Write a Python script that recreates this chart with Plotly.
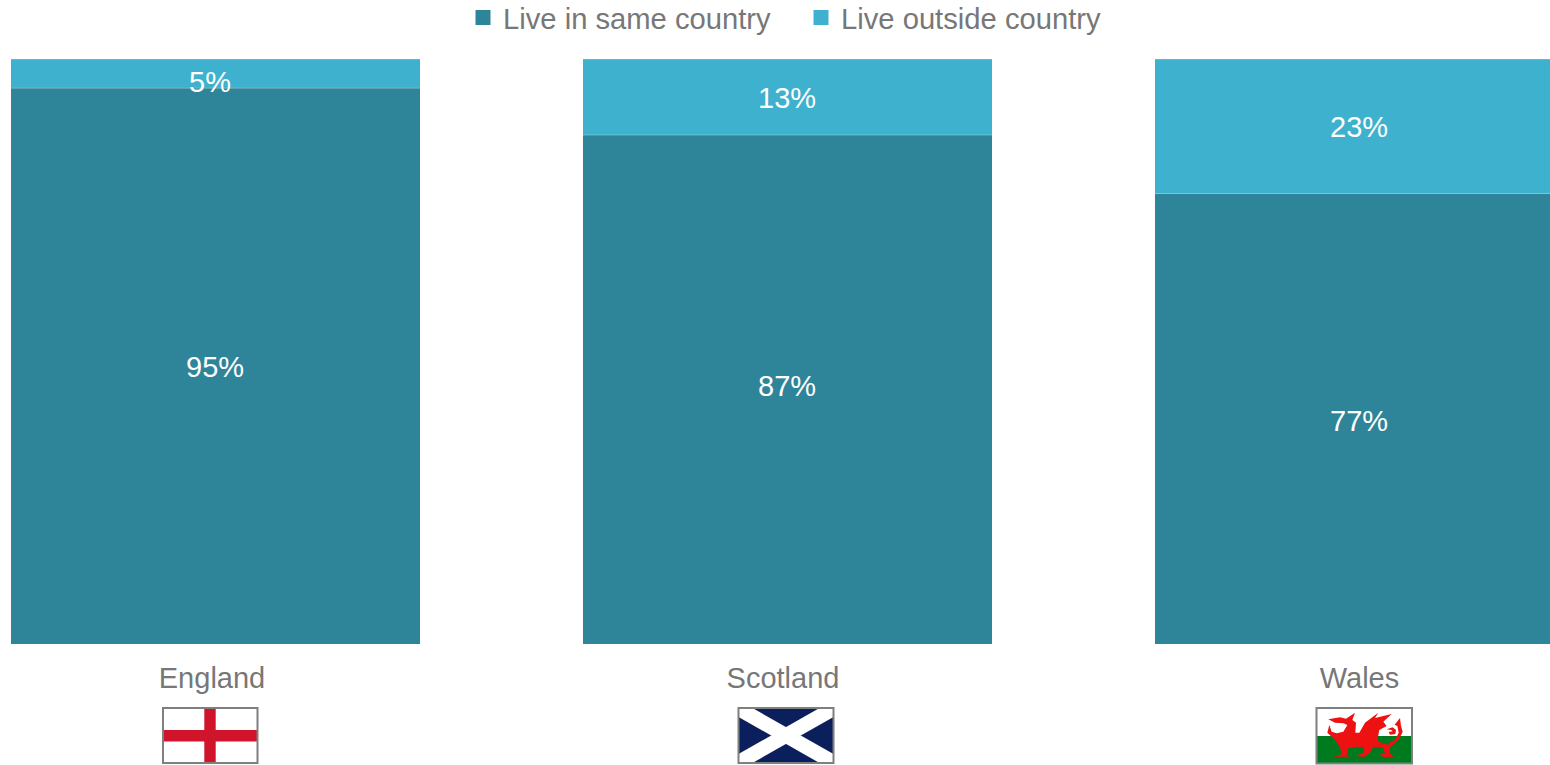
import plotly.graph_objects as go

countries = ["England", "Scotland", "Wales"]
same_country = [95, 87, 77]
outside_country = [5, 13, 23]
series_names = ["Live in same country", "Live outside country"]
series_colors = ["#2E8499", "#3EB1CE"]
TEXT_GREY = "#777777"
FONT = "Liberation Sans, Arial, sans-serif"
W, H = 1550, 765
TOP, BOTTOM = 59, 644
STEP = 572.0
FIRST = 215.5
xs = list(range(len(countries)))
tick_nudge_px = [-3.5, -4.5, 0]
same_nudge = [(-1, -1), (-1, 3.5), (-1, -2)]
outside_nudge = [(-5.5, -8), (-1, -1), (-1, -1)]

def px(x):
    return x / W
def py(y):
    return (BOTTOM - y) / (BOTTOM - TOP)

fig = go.Figure()
for name, vals, col in zip(series_names, [same_country, outside_country], series_colors):
    fig.add_trace(go.Bar(x=xs, y=vals, name=name, marker=dict(color=col, line=dict(width=0)),
                         showlegend=False, legendgroup=name, hoverinfo="x+y"))
for name, col in zip(series_names, series_colors):
    fig.add_trace(go.Scatter(x=[None], y=[None], mode="markers", name=name, legendgroup=name,
                             marker=dict(symbol="square", size=15, color=col)))

annotations = []
for i in xs:
    annotations.append(dict(x=i, y=same_country[i] / 2, text=f"{same_country[i]}%",
                            xshift=same_nudge[i][0], yshift=same_nudge[i][1]))
    annotations.append(dict(x=i, y=same_country[i] + outside_country[i] / 2, text=f"{outside_country[i]}%",
                            xshift=outside_nudge[i][0], yshift=outside_nudge[i][1]))
for a in annotations:
    a.update(xref="x", yref="y", showarrow=False, font=dict(family=FONT, size=29, color="white"))

shapes = []
half = 409 / STEP / 2
for i in xs:
    for level in (same_country[i], same_country[i] + outside_country[i]):
        shapes.append(dict(type="line", xref="x", yref="y", x0=i - half, x1=min(i + half, 2.34), y0=level, y1=level,
                           line=dict(color="rgba(255,255,255,0.3)", width=1)))

def rect(x0, y0, x1, y1, fill, line=None):
    return dict(type="rect", xref="paper", yref="paper", x0=px(x0), x1=px(x1), y0=py(y0), y1=py(y1),
                fillcolor=fill, line=dict(color=line, width=2) if line else dict(width=0), layer="above")

def poly(points, fill):
    d = "M" + " L".join(f"{px(x):.5f},{py(y):.5f}" for x, y in points) + " Z"
    return dict(type="path", xref="paper", yref="paper", path=d, fillcolor=fill, line=dict(width=0), layer="above")

# England flag
shapes += [rect(163, 708, 257.5, 763, "white"),
           rect(204.3, 709, 215.7, 762, "#CF142B"),
           rect(164, 730, 257, 741.5, "#CF142B"),
           rect(163, 708, 257.5, 763, "rgba(0,0,0,0)", "#7F7F7F")]
# Scotland flag
l, t, r, b = 738.5, 708, 833.5, 763
shapes += [rect(l, t, r, b, "#0B1F5C"),
           poly([(l, t), (l + 14, t), (r, b - 9), (r, b), (r - 14, b), (l, t + 9)], "white"),
           poly([(r, t), (r - 14, t), (l, b - 9), (l, b), (l + 14, b), (r, t + 9)], "white"),
           rect(l, t, r, b, "rgba(0,0,0,0)", "#7F7F7F")]
# Wales flag
shapes += [rect(1316.5, 708, 1412, 736, "white"),
           rect(1316.5, 736, 1412, 763.5, "#007A1F")]
def z(points):
    return [(1290 + x / 3, 690 + y / 3) for x, y in points]
dragon = [(115,88),(150,82),(168,86),(195,68),(187,90),(198,98),(196,128),(208,128),(225,98),(265,68),(255,84),
          (305,72),(280,95),(290,108),(268,120),(262,150),(275,160),(300,165),(300,190),(310,200),(285,202),
          (265,195),(285,190),(278,172),(250,170),(240,188),(225,200),(195,198),(220,188),(222,172),(200,170),
          (175,175),(170,195),(178,200),(130,200),(155,192),(150,172),(135,150),(112,128),(118,105),(125,125),
          (140,130),(160,125),(172,105),(160,100),(135,98)]
tail = [(295,160),(315,150),(326,128),(322,108),(314,104),(330,84),(333,108),(338,125),(326,150),(300,172)]
curl = [(290,118),(308,112),(318,120),(316,132),(300,134),(296,126),(308,124),(304,120)]
shapes += [poly(z(dragon), "#EE1111"), poly(z(tail), "#EE1111"), poly(z(curl), "#EE1111"),
           rect(1316.5, 708, 1412, 763.5, "rgba(0,0,0,0)", "#7F7F7F")]

fig.update_layout(
    width=W, height=H, autosize=False, paper_bgcolor="white", plot_bgcolor="white",
    margin=dict(l=0, r=0, t=TOP, b=H - BOTTOM, pad=0),
    barmode="stack", bargap=1 - 409 / STEP,
    font=dict(family=FONT, size=29, color=TEXT_GREY),
    xaxis=dict(type="linear", range=[-FIRST / STEP, (W - FIRST) / STEP], showgrid=False, zeroline=False,
               showline=False, ticks="outside", ticklen=8, tickcolor="rgba(0,0,0,0)",
               tickmode="array", tickvals=[i + tick_nudge_px[i] / STEP for i in xs], ticktext=countries,
               tickfont=dict(family=FONT, size=29, color=TEXT_GREY), fixedrange=True),
    yaxis=dict(range=[0, 100], visible=False, fixedrange=True),
    legend=dict(orientation="h", x=463 / W, xref="container", xanchor="left", y=1 - 43 / H, yref="container", yanchor="bottom",
                bgcolor="rgba(0,0,0,0)", borderwidth=0, entrywidth=293, entrywidthmode="pixels",
                font=dict(family=FONT, size=29.2, color=TEXT_GREY), itemclick=False, itemdoubleclick=False),
    annotations=annotations, shapes=shapes,
)
fig.write_html("out.html", config=dict(displayModeBar=False),
               default_width="1550px", default_height="765px",
               post_script="document.body.style.margin='0';document.body.style.overflow='hidden';")
